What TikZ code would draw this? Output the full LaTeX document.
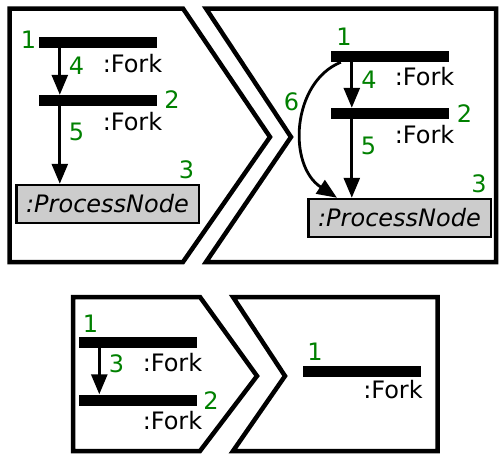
\documentclass[tikz,border=0pt]{standalone}
\usepackage{fontspec}
\setmainfont{DejaVu Sans}
\usetikzlibrary{arrows.meta,calc}
\definecolor{numgreen}{RGB}{0,128,0}
\definecolor{boxgray}{RGB}{204,204,204}
\tikzset{
  panel/.style={draw=black,line width=4.5pt,line join=miter},
  forkbar/.style={rectangle,fill=black,draw=none,inner sep=0pt,minimum width=118pt,minimum height=11pt},
  procbox/.style={rectangle,draw=black,fill=boxgray,line width=2.5pt,inner sep=0pt,
    minimum width=182.5pt,minimum height=38pt,font=\fontsize{24}{26}\selectfont\itshape},
  num/.style={inner sep=0pt,text=numgreen,font=\fontsize{24}{26}\selectfont},
  lbl/.style={inner sep=0pt,text=black,font=\fontsize{24}{26}\selectfont},
  flow/.style={line width=2.8pt,-{Triangle[length=20pt,width=16pt]}},
}
\begin{document}
\begin{tikzpicture}[x=1pt,y=-1pt]
\useasboundingbox (0,0) rectangle (500,453);

% upper left state
\draw[panel] (9.5,8.5) -- (183,8.5) -- (270,137) -- (183,262) -- (9.5,262) -- cycle;
\node[forkbar] (a1) at (98,42.5) {};
\node[forkbar] (a2) at (98,100.5) {};
\node[procbox] (a3) at (107.5,204) {:ProcessNode};
\node[num] (a1n) at (28.5,39.5) {1};
\node[num] (a2n) at (172,100) {2};
\node[num] (a3n) at (186.5,169.5) {3};
\node[num] (a4n) at (76.5,65.5) {4};
\node[num] (a5n) at (76.5,132) {5};
\node[lbl] (a1l) at (132.5,63.5) {:Fork};
\node[lbl] (a2l) at (132.5,121.5) {:Fork};
\draw[flow] ([xshift=21pt]a1.south west) -- ([xshift=21pt]a2.north west);
\draw[flow] ([xshift=21pt]a2.south west) -- ([xshift=21pt]a2.south west |- a3.north);

% upper right state
\draw[panel] (206,8.5) -- (496,8.5) -- (496,262) -- (206,262) -- (291,137) -- cycle;
\node[forkbar] (b1) at (390,56.5) {};
\node[forkbar] (b2) at (390,113.5) {};
\node[procbox] (b3) at (399.5,218) {:ProcessNode};
\node[num] (b1n) at (344,36.5) {1};
\node[num] (b2n) at (464.5,114) {2};
\node[num] (b3n) at (479,184) {3};
\node[num] (b4n) at (369,79.5) {4};
\node[num] (b5n) at (368.5,146) {5};
\node[num] (b6n) at (291.5,101.5) {6};
\node[lbl] (b1l) at (424.5,77) {:Fork};
\node[lbl] (b2l) at (424.5,135) {:Fork};
\draw[flow] ([xshift=21pt]b1.south west) -- ([xshift=21pt]b2.north west);
\draw[flow] ([xshift=21pt]b2.south west) -- ([xshift=21pt]b2.south west |- b3.north);
\draw[flow] ([xshift=10pt]b1.south west) .. controls (292,82) and (287,165) .. ([xshift=30pt]b3.north west);

% lower left state
\draw[panel] (73,297) -- (200,297) -- (257,376) -- (200,451) -- (73,451) -- cycle;
\node[forkbar] (c1) at (137.5,342.5) {};
\node[forkbar] (c2) at (137.5,400) {};
\node[num] (c1n) at (90.5,323.5) {1};
\node[num] (c2n) at (211,400.5) {2};
\node[num] (c3n) at (116.5,364) {3};
\node[lbl] (c1l) at (172.5,363) {:Fork};
\node[lbl] (c2l) at (172.5,421) {:Fork};
\draw[flow] ([xshift=21pt]c1.south west) -- ([xshift=21pt]c2.north west);

% lower right state
\draw[panel] (233,297) -- (437.5,297) -- (437.5,451) -- (233,451) -- (285,376) -- cycle;
\node[forkbar] (d1) at (361.5,371.5) {};
\node[num] (d1n) at (315,351.5) {1};
\node[lbl] (d1l) at (393,390) {:Fork};
\end{tikzpicture}
\end{document}
